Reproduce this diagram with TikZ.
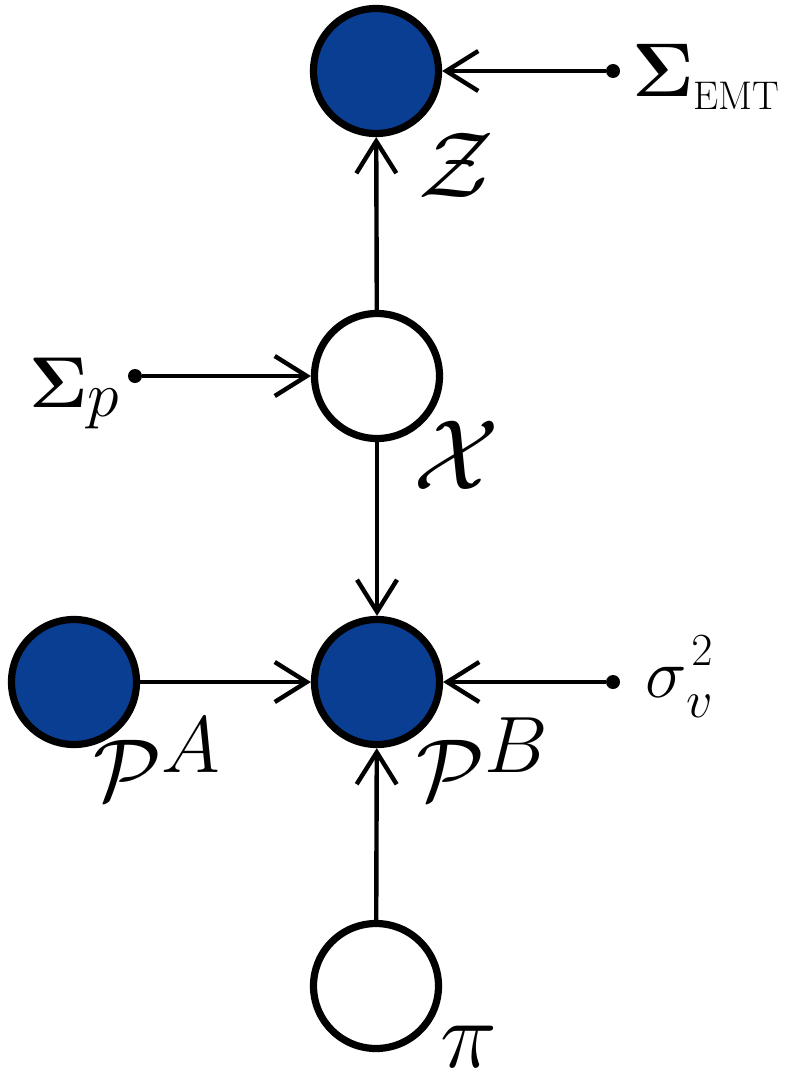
\RequirePackage{fix-cm}
\documentclass[tikz,border=0pt]{standalone}
\usepackage{amsmath}
\usetikzlibrary{arrows.meta}
\definecolor{nodeblue}{RGB}{9,62,146}
\newcommand{\fsz}[1]{\fontsize{#1}{#1}\selectfont}
\begin{document}
\begin{tikzpicture}[x=0.5pt,y=-0.5pt,
  var/.style={circle,draw=black,line width=3.6pt,minimum size=62.5pt,inner sep=0pt},
  obs/.style={var,fill=nodeblue},
  latent/.style={var,fill=white},
  hyper/.style={circle,fill=black,minimum size=7pt,inner sep=0pt},
  conn/.style={line width=2.2pt,-{Straight Barb[length=16pt,width=20pt]}},
  lab/.style={anchor=base west,inner sep=0pt,outer sep=0pt}]
\useasboundingbox (0,0) rectangle (787,1081);
% random variables
\node[obs]    (Z)  at (376,71)  {};
\node[latent] (X)  at (377,376) {};
\node[obs]    (PB) at (377,682) {};
\node[obs]    (PA) at (74,682)  {};
\node[latent] (pi) at (376,986) {};
% hyperparameters
\node[hyper] (hEMT) at (613,71)  {};
\node[hyper] (hp)   at (135,376) {};
\node[hyper] (hv)   at (613,682) {};
% connectors
\draw[conn] (hEMT) -- (Z);
\draw[conn] (X) -- (Z);
\draw[conn] (hp) -- (X);
\draw[conn] (X) -- (PB);
\draw[conn] (PA) -- (PB);
\draw[conn] (hv) -- (PB);
\draw[conn] (pi) -- (PB);
% labels
\node[lab] (lZ) at (418,197) {\fsz{47}$\mathcal{Z}$};
\node[lab] (lX) at (413,489) {\fsz{50}$\mathcal{X}$};
\node[lab] (lPA) at (93,800) {\fsz{44}$\mathcal{P}$\raisebox{14pt}{\fsz{40}$A$}};
\node[lab] (lPB) at (416,800) {\fsz{44}$\mathcal{P}$\raisebox{14pt}{\fsz{40}$B$}};
\node[lab] (lpi) at (440,1067) {\fsz{48}$\pi$};
\node[lab] (lEMT) at (632,97) {\fsz{38}$\mathbf{\Sigma}$\raisebox{-6.5pt}{\fsz{20}EMT}};
\node[lab] (lp) at (29,407) {\fsz{36}$\mathbf{\Sigma}$\raisebox{-4.5pt}{\fsz{32}$p$}};
\node[lab] (lv) at (645,697) {\fsz{35}$\sigma$\rlap{\hspace{2.5pt}\raisebox{16pt}{\fsz{23}$2$}}\raisebox{-10pt}{\fsz{26}$v$}};
\end{tikzpicture}
\end{document}
